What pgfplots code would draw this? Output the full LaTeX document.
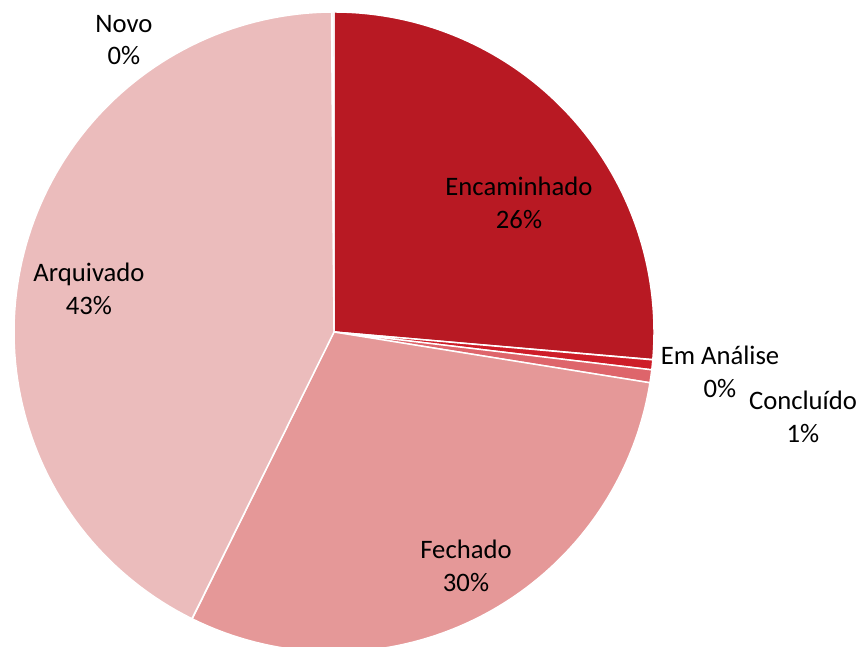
\documentclass[border=0pt]{standalone}
\usepackage{pgfplots}
\pgfplotsset{compat=1.18}
\usepackage{pgfplotstable}
\usepackage{fontspec}
\setmainfont{Carlito}
\definecolor{slice0}{HTML}{B81923}
\definecolor{slice1}{HTML}{CE1D28}
\definecolor{slice2}{HTML}{DE656B}
\definecolor{slice3}{HTML}{E59898}
\definecolor{slice4}{HTML}{EBBCBC}
\definecolor{slice5}{HTML}{F8E3E3}
\tikzset{lbl/.style={font=\fontsize{20}{24.5}\selectfont, align=center, text=black, inner sep=0pt}}
\pgfplotstableread{
name pct
Encaminhado 26.4
EmAnalise 0.5
Concluido 0.65
Fechado 29.8
Arquivado 42.6
Novo 0.1
}\piedata
\begin{document}
\begin{tikzpicture}
\begin{axis}[
  width=646.5pt, height=484.5pt, scale only axis,
  xmin=0, xmax=862, ymin=0, ymax=646,
  hide axis, clip=false,
]
\pgfmathsetmacro\cum{0}
\pgfmathsetmacro\total{100.05}
\pgfplotsforeachungrouped \i in {0,...,5}{%
  \pgfplotstablegetelem{\i}{pct}\of\piedata
  \let\v=\pgfplotsretval
  \pgfmathsetmacro\a{90-(\cum/\total)*360}%
  \pgfmathsetmacro\b{90-((\cum+\v)/\total)*360}%
  \edef\cmd{\noexpand\addplot[fill=slice\i, draw=white, line width=1.1pt, line join=round,
     samples at={-1,0,0.01,...,1,2}, variable=\noexpand\t]
     ({(\noexpand\t<-0.5 || \noexpand\t>1.5) ? 334 : 334+320*cos(\a+(\b-(\a))*\noexpand\t)},
      {(\noexpand\t<-0.5 || \noexpand\t>1.5) ? 314 : 314+320*sin(\a+(\b-(\a))*\noexpand\t)});}%
  \cmd
  \pgfmathsetmacro\cum{\cum+\v}%
}
\node[lbl] at (axis cs:124,606) {Novo\\0\%};
\node[lbl] at (axis cs:519,443) {Encaminhado\\26\%};
\node[lbl] at (axis cs:720,274) {Em Análise\\0\%};
\node[lbl] at (axis cs:803,229) {Concluído\\1\%};
\node[lbl] at (axis cs:466,80) {Fechado\\30\%};
\node[lbl] at (axis cs:89,357) {Arquivado\\43\%};
\end{axis}
\pgfresetboundingbox
\useasboundingbox (current axis.south west) rectangle (current axis.north east);
\end{tikzpicture}
\end{document}
